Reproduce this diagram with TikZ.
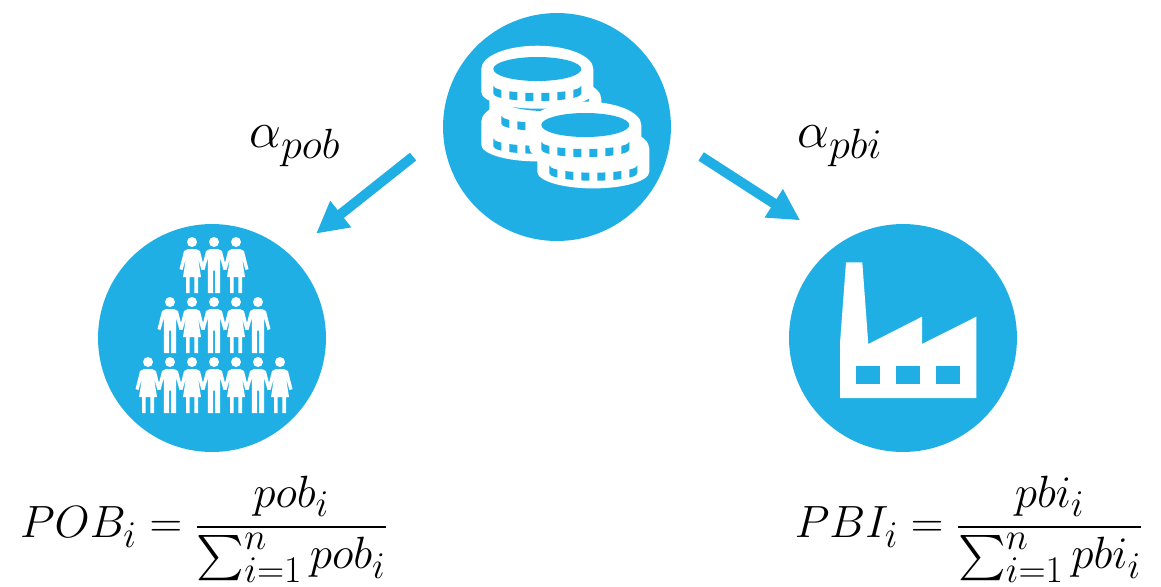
\documentclass[tikz,border=0pt]{standalone}
\usepackage{amsmath}
\usetikzlibrary{arrows.meta}
\definecolor{iconblue}{RGB}{31,175,228}

\begin{document}
\begin{tikzpicture}[
    x=0.02cm, y=-0.02cm,
    disc/.style={circle, fill=iconblue, minimum size=4.56cm, inner sep=0pt},
    flow/.style={-{Triangle[length=0.63cm, width=0.63cm]}, iconblue, line width=0.2cm},
    label/.style={inner sep=0pt, font=\fontsize{24.88}{30}\selectfont},
    manfig/.pic={
        \fill[white] (0,0) circle (5);
        \fill[white] (-4,7) -- (4,7) -- (8,9) -- (12.5,27) -- (9.5,28) -- (6.2,16) -- (6.2,51) -- (1,51) -- (1,28.5) -- (-1,28.5) -- (-1,51) -- (-6.2,51) -- (-6.2,16) -- (-9.5,28) -- (-12.5,27) -- (-8,9) -- cycle;
    },
    womanfig/.pic={
        \fill[white] (0,0) circle (5);
        \fill[white] (-4,7) -- (4,7) -- (8,9) -- (12.5,27) -- (9.5,28) -- (6,16) -- (9,35) -- (6,35) -- (6,51) -- (2.3,51) -- (2.3,35) -- (-2.3,35) -- (-2.3,51) -- (-6,51) -- (-6,35) -- (-9,35) -- (-6,16) -- (-9.5,28) -- (-12.5,27) -- (-8,9) -- cycle;
    },
    coinfig/.pic={
        \fill[white] (-56,0) arc[start angle=180, end angle=360, x radius=56, y radius=23.3] -- (56,23) arc[start angle=0, end angle=180, x radius=56, y radius=16.7] -- cycle;
        \fill[iconblue] (0,0) ellipse[x radius=44, y radius=12];
        \foreach \hx in {-36,-20,-4,12,28,44} {
            \fill[iconblue] plot[domain=\hx-8:\hx, samples=5] (\x, {16.7+7.3*sqrt(max(0,1-(\x/44)^2))}) -- plot[domain=\hx:\hx-8, samples=5] (\x, {24.7+7.3*sqrt(max(0,1-(\x/44)^2))}) -- cycle;
        }
    }
]

% Circles
\node[disc] (coins) at (557,127) {};
\node[disc] (people) at (212,338) {};
\node[disc] (factory) at (903,338) {};

% Coins
\pic at (537.3,121.7) {coinfig};
\pic at (545.3,99) {coinfig};
\pic at (537.3,69) {coinfig};
\pic at (593.3,148.7) {coinfig};
\pic at (585.3,125) {coinfig};

% People
\foreach \px/\kind in {192/womanfig,214/manfig,236/womanfig}
    \pic at (\px,242) {\kind};
\foreach \px/\kind in {170/manfig,192/womanfig,214/manfig,236/womanfig,258/manfig}
    \pic at (\px,302) {\kind};
\foreach \px/\kind in {148/womanfig,170/manfig,192/womanfig,214/manfig,236/womanfig,258/manfig,280/womanfig}
    \pic at (\px,362) {\kind};

% Factory
\fill[white] (840,398) -- (840,343.3) -- (846,262.3) -- (862.3,262.3) -- (868.3,344) -- (922,316.7) -- (922,344) -- (976.3,316.7) -- (976.3,398) -- cycle;
\foreach \wx in {856,896,936}
    \fill[iconblue] (\wx,366) rectangle +(24,18.3);

% Arrows
\draw[flow, shorten <=0.76cm, shorten >=0.668cm] (coins.183.8) -- (people.47);
\draw[flow, shorten <=0.72cm, shorten >=0.886cm] (coins.-5.8) -- (factory.125.1);

% Labels
\node[label, anchor=base] (alphapob) at (295,147) {\scalebox{1.16}{$\alpha_{pob}$}};
\node[label, anchor=base] (alphapbi) at (840,147) {\scalebox{1.16}{$\alpha_{pbi}$}};
\node[label, anchor=center] (popshare) at (204,529) {\scalebox{1.034}{$\displaystyle POB_i = \frac{pob_i}{\sum_{i=1}^{n} pob_i}$}};
\node[label, anchor=center] (pbishare) at (969,529) {\scalebox{1.034}{$\displaystyle PBI_i = \frac{pbi_i}{\sum_{i=1}^{n} pbi_i}$}};

\useasboundingbox (0,0) rectangle (1161,586);
\end{tikzpicture}
\end{document}
